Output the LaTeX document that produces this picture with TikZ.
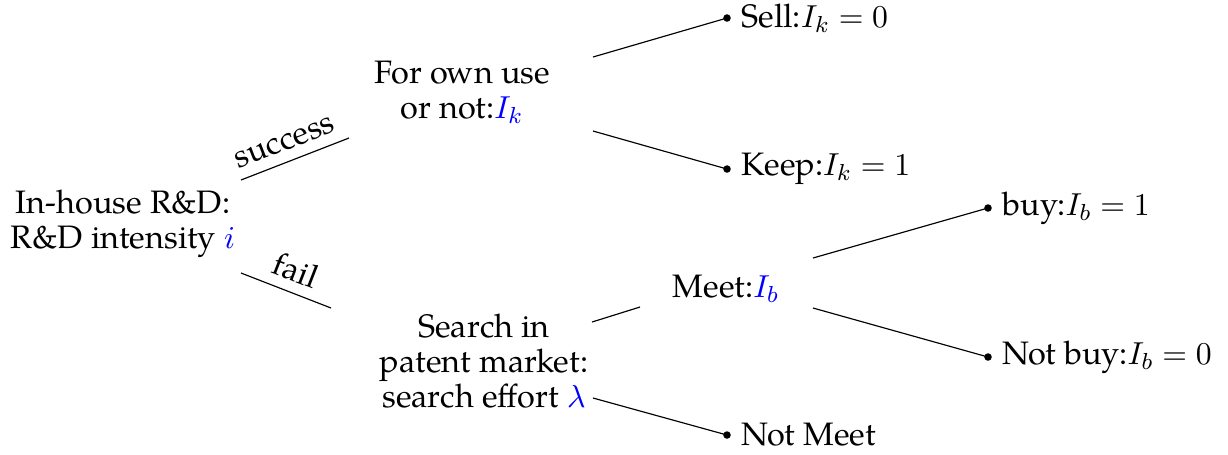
\documentclass[tikz,border=0pt]{standalone}
\usepackage[no-math]{fontspec}
\setmainfont{TeX Gyre Pagella}
\begin{document}
\begin{tikzpicture}[x=0.345pt,y=-0.345pt,
  every node/.style={font=\fontsize{11.2}{12.1}\selectfont},
  txt/.style={align=center, inner sep=0pt},
  leaf/.style={anchor=west, inner sep=0pt, xshift=4.8pt},
  branch/.style={draw, line width=0.4pt},
  dotfill/.style={fill=black}]
\useasboundingbox (0,0) rectangle (1228,454);

% decision nodes
\node[txt] (root) at (123,224) {In-house R\&D:\\R\&D intensity \textcolor{blue}{$i$}};
\node[txt] (own) at (462,92) {For own use\\or not:\textcolor{blue}{$I_k$}};
\node[txt] (search) at (484,361) {Search in\\patent market:\\search effort \textcolor{blue}{$\lambda$}};
\node[txt] (meet) at (726,289) {Meet:\textcolor{blue}{$I_b$}};

% edge end points
\coordinate (r1) at (241,180); \coordinate (o0) at (349,138);
\coordinate (r2) at (241,273); \coordinate (s0) at (331,308);
\coordinate (o1) at (593,57);  \coordinate (d1) at (727,18);
\coordinate (o2) at (593,131); \coordinate (d2) at (727,169);
\coordinate (s1) at (592,322); \coordinate (m0) at (640,307);
\coordinate (m1) at (813,258); \coordinate (d3) at (988,208);
\coordinate (m2) at (813,308); \coordinate (d4) at (988,357);
\coordinate (s2) at (593,398); \coordinate (d5) at (727,435);

% leaves
\node[leaf] (sell) at (d1) {Sell:$I_k=0$};
\node[leaf] (keep) at (d2) {Keep:$I_k=1$};
\node[leaf] (buy) at (d3) {buy:$I_b=1$};
\node[leaf] (notbuy) at (d4) {Not buy:$I_b=0$};
\node[leaf] (notmeet) at (d5) {Not Meet};

% edges
\draw[branch] (r1) -- node[sloped, above, pos=0.47, inner sep=3.5pt] {success} (o0);
\draw[branch] (r2) -- node[sloped, above, pos=0.52, inner sep=3.5pt] {fail} (s0);
\draw[branch] (o1) -- (d1);
\draw[branch] (o2) -- (d2);
\draw[branch] (s1) -- (m0);
\draw[branch] (m1) -- (d3);
\draw[branch] (m2) -- (d4);
\draw[branch] (s2) -- (d5);

\foreach \d in {d1,d2,d3,d4,d5} \fill[dotfill] (\d) circle (1.3pt);
\end{tikzpicture}
\end{document}
